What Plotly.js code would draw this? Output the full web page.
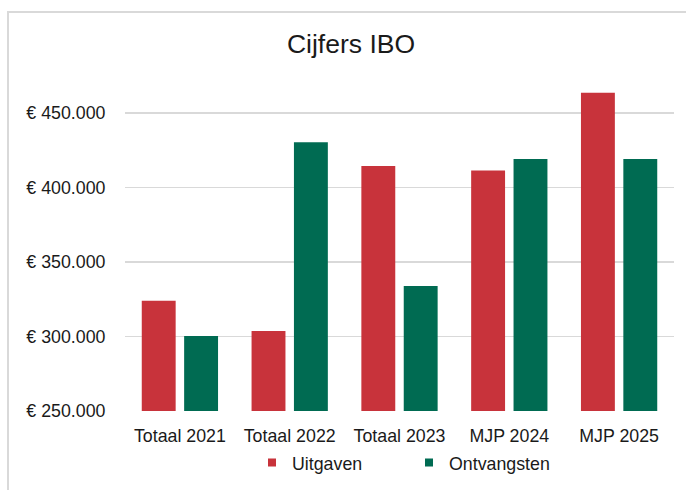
<!DOCTYPE html>
<html>
<head>
<meta charset="utf-8">
<script src="https://cdn.plot.ly/plotly-3.0.1.min.js"></script>
<style>
  html, body { margin: 0; padding: 0; background: #ffffff; }
  #chart { position: absolute; left: 0; top: 0; width: 686px; height: 490px; }
  #frame { position: absolute; left: 7px; top: 11px; width: 700px; height: 500px;
           border-left: 2px solid #d9d9d9; border-top: 2px solid #d9d9d9; pointer-events: none; }
</style>
</head>
<body>
<div id="chart"></div>
<div id="frame"></div>
<script>
const categories = ["Totaal 2021", "Totaal 2022", "Totaal 2023", "MJP 2024", "MJP 2025"];
const uitgaven    = [324000, 303700, 414500, 411500, 463800];
const ontvangsten = [300300, 430500, 334000, 419200, 419200];
const seriesNames = ["Uitgaven", "Ontvangsten"];
const seriesColors = ["#C8333B", "#006B52"];

const FONT = "Liberation Sans, Arial, sans-serif";
const TXT = "#1a1a1a";
const FS = 17.8;

const traces = [
  { type: "bar", name: seriesNames[0], x: categories, y: uitgaven,
    marker: { color: seriesColors[0] }, showlegend: false, hoverinfo: "skip" },
  { type: "bar", name: seriesNames[1], x: categories, y: ontvangsten,
    marker: { color: seriesColors[1] }, showlegend: false, hoverinfo: "skip" },
  { type: "scatter", mode: "markers", name: seriesNames[0], x: [null], y: [null],
    marker: { symbol: "square", size: 8, color: seriesColors[0] } },
  { type: "scatter", mode: "markers", name: seriesNames[1], x: [null], y: [null],
    marker: { symbol: "square", size: 8, color: seriesColors[1] } }
];

const layout = {
  width: 686, height: 490,
  margin: { l: 125, r: 12, t: 76, b: 79 },
  paper_bgcolor: "#ffffff", plot_bgcolor: "#ffffff",
  separators: ",.",
  font: { family: FONT, size: FS, color: TXT },
  title: { text: "Cijfers IBO", font: { family: FONT, size: 26.5, color: TXT },
           xref: "container", x: 351 / 686, xanchor: "center",
           yref: "container", y: 1 - 44 / 490, yanchor: "middle" },
  barmode: "group", bargap: 0.228, bargroupgap: 0.2,
  xaxis: { type: "category", showgrid: false, zeroline: false, showline: false,
           ticks: "outside", ticklen: 9, tickcolor: "rgba(0,0,0,0)",
           tickfont: { family: FONT, size: FS, color: TXT } },
  yaxis: { range: [250000, 475000], tick0: 250000, dtick: 50000,
           tickformat: ",d", tickprefix: "€ ",
           showgrid: true, gridcolor: "#d9d9d9", gridwidth: 1.5,
           zeroline: false, showline: false,
           ticks: "outside", ticklen: 15, tickcolor: "rgba(0,0,0,0)",
           tickfont: { family: FONT, size: FS, color: TXT } },
  showlegend: true,
  legend: { orientation: "h", xref: "container", yref: "container",
            x: 252 / 686, xanchor: "left", y: 1 - 463 / 490, yanchor: "middle",
            entrywidth: 112, entrywidthmode: "pixels",
            font: { family: FONT, size: FS, color: TXT },
            bgcolor: "rgba(0,0,0,0)" }
};

Plotly.newPlot("chart", traces, layout, { displayModeBar: false, staticPlot: true });
</script>
</body>
</html>
